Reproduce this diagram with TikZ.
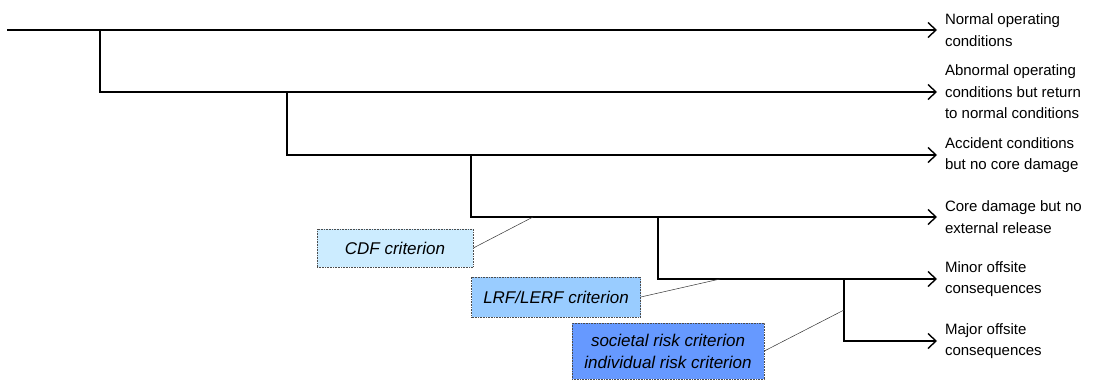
\documentclass[tikz,border=0pt]{standalone}
\usepackage{fontspec}
\setmainfont{Liberation Sans}
\usetikzlibrary{arrows.meta}

\definecolor{cdfblue}{HTML}{CCECFF}
\definecolor{lrfblue}{HTML}{99CCFF}
\definecolor{riskblue}{HTML}{6699FF}

\begin{document}
\begin{tikzpicture}[x=1pt, y=-1pt, >={Straight Barb[length=8pt,width=15pt]},
    branch/.style={line width=1.4pt},
    outcome/.style={anchor=west, inner sep=0pt, outer xsep=8pt, align=left,
      font=\fontsize{15}{21.5}\selectfont},
    crit/.style={draw=black!70, densely dotted, line width=0.6pt, align=center,
      font=\fontsize{17}{22}\selectfont\itshape, inner sep=0pt},
    link/.style={line width=0.5pt, black!80}]

    \useasboundingbox (0,0) rectangle (1117,381);

    % branch points
    \coordinate (s) at (7,30);
    \coordinate (b1) at (100,30);
    \coordinate (b2) at (287,92);
    \coordinate (b3) at (471,155);
    \coordinate (b4) at (658,217);
    \coordinate (b5) at (844,279);

    % end states
    \node[outcome] (o1) at (937,30) {Normal operating\\conditions};
    \node[outcome] (o2) at (937,92) {Abnormal operating\\conditions but return\\to normal conditions};
    \node[outcome] (o3) at (937,155) {Accident conditions\\but no core damage};
    \node[outcome] (o4) at (937,217) {Core damage but no\\external release};
    \node[outcome] (o5) at (937,279) {Minor offsite\\consequences};
    \node[outcome] (o6) at (937,341) {Major offsite\\consequences};

    \draw[branch, ->] (s) -- (o1.west);
    \draw[branch, ->] (b1) |- (o2.west);
    \draw[branch, ->] (b2) |- (o3.west);
    \draw[branch, ->] (b3) |- (o4.west);
    \draw[branch, ->] (b4) |- (o5.west);
    \draw[branch, ->] (b5) |- (o6.west);

    % criteria
    \node[crit, fill=cdfblue, minimum width=156pt, minimum height=38pt] (cdf) at (395,248) {CDF criterion};
    \node[crit, fill=lrfblue, minimum width=169pt, minimum height=40pt] (lrf) at (556,297) {LRF/LERF criterion};
    \node[crit, fill=riskblue, minimum width=192pt, minimum height=56pt] (risk) at (668,351) {societal risk criterion\\individual risk criterion};

    \coordinate (t1) at (533,217);
    \coordinate (t2) at (720,279);
    \coordinate (t3) at (844,310);
    \draw[link] (cdf.east) -- (t1);
    \draw[link] (lrf.east) -- (t2);
    \draw[link] (risk.east) -- (t3);
\end{tikzpicture}
\end{document}
